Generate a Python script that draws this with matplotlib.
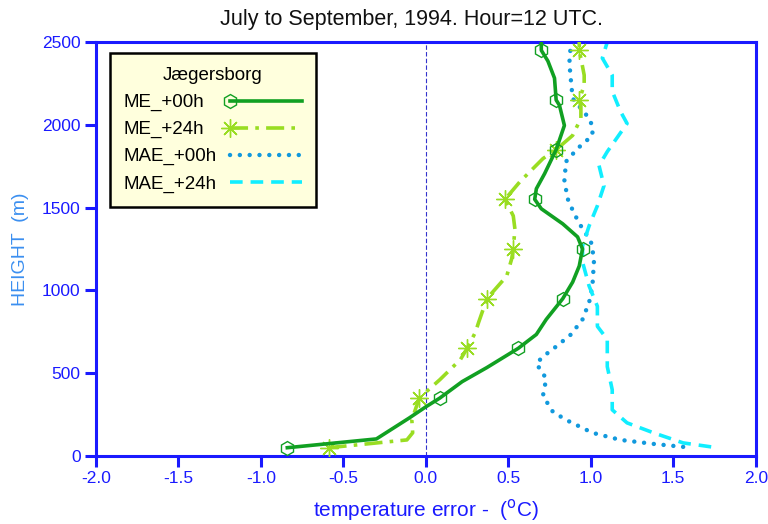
import matplotlib
matplotlib.use("Agg")
import matplotlib.pyplot as plt
from matplotlib.legend_handler import HandlerLine2D
import numpy as np

plt.rcParams['font.family'] = ['Liberation Sans', 'DejaVu Sans']

title = "July to September, 1994. Hour=12 UTC."
legend_title = "Jægersborg"
labels = ["ME_+00h", "ME_+24h", "MAE_+00h", "MAE_+24h"]
marker_heights = [50, 350, 650, 950, 1250, 1550, 1850, 2150, 2450]

me00_h = [50, 103, 230, 297, 350, 449, 534, 650, 734, 825, 950, 1050, 1147, 1250, 1323,
          1402, 1493, 1550, 1614, 1705, 1850, 1996, 2118, 2150, 2282, 2385, 2450, 2500]
me00_x = [-0.84, -0.30, -0.10, 0.0, 0.085, 0.22, 0.37, 0.56, 0.67, 0.73, 0.83, 0.89, 0.93, 0.95, 0.92,
          0.83, 0.70, 0.66, 0.67, 0.72, 0.79, 0.84, 0.81, 0.79, 0.78, 0.74, 0.70, 0.70]

me24_h = [50, 97, 140, 218, 350, 461, 583, 650, 746, 807, 950, 1086, 1189, 1250, 1371, 1450,
          1550, 1656, 1796, 1850, 1936, 2039, 2118, 2150, 2239, 2300, 2403, 2450, 2500]
me24_x = [-0.59, -0.115, -0.08, -0.085, -0.04, 0.085, 0.21, 0.25, 0.30, 0.32, 0.37, 0.49, 0.52, 0.53, 0.54, 0.53,
          0.48, 0.57, 0.71, 0.79, 0.89, 0.94, 0.94, 0.93, 0.96, 0.96, 0.94, 0.93, 0.93]

mae00_h = [55, 73, 97, 140, 218, 267, 315, 364, 467, 558, 600, 661, 734, 825, 928, 1026, 1189, 1299,
           1371, 1462, 1553, 1663, 1778, 1857, 1936, 1990, 2039, 2160, 2263, 2373, 2500]
mae00_x = [1.56, 1.38, 1.18, 1.01, 0.85, 0.77, 0.74, 0.71, 0.73, 0.67, 0.71, 0.79, 0.88, 0.95, 0.99, 1.01, 1.02, 1.00,
           0.95, 0.90, 0.86, 0.84, 0.85, 0.92, 1.01, 1.01, 0.99, 0.89, 0.88, 0.87, 0.88]

mae24_h = [55, 79, 140, 200, 279, 400, 540, 704, 783, 904, 1026, 1171, 1268, 1390, 1511, 1632,
           1754, 1838, 2008, 2081, 2203, 2300, 2403, 2500]
mae24_x = [1.73, 1.56, 1.38, 1.22, 1.13, 1.13, 1.10, 1.10, 1.04, 1.04, 0.99, 0.95, 0.95, 0.99, 1.04, 1.08,
           1.05, 1.10, 1.22, 1.18, 1.13, 1.13, 1.07, 1.10]

x_ticks = [-2.0, -1.5, -1.0, -0.5, 0.0, 0.5, 1.0, 1.5, 2.0]
y_ticks = [0, 500, 1000, 1500, 2000, 2500]

axis_blue = '#1a1aff'
fig = plt.figure(figsize=(7.68, 5.24), dpi=100)
ax = fig.add_axes([0.125, 0.1298, 0.859, 0.79])

def mk(hs):
    return [i for i, h in enumerate(hs) if h in marker_heights]

ax.axvline(0, color='#3333cc', lw=0.8, ls=(0, (4, 2)), zorder=1)

l_mae00, = ax.plot(mae00_x, mae00_h, color='#1199dd', lw=3.2, ls=(0, (0.01, 2.2)),
                   dash_capstyle='round', solid_capstyle='round', zorder=2)
l_mae24, = ax.plot(mae24_x, mae24_h, color='#11eeff', lw=2.6, ls=(0, (3.5, 2.2)), zorder=2)
l_me24, = ax.plot(me24_x, me24_h, color='#99dd22', lw=2.6, ls=(0, (5, 2, 1, 2)),
                  marker=(8, 2, 0), markersize=13, markeredgewidth=1.0, markevery=mk(me24_h), zorder=3)
l_me00, = ax.plot(me00_x, me00_h, color='#11a022', lw=2.6, ls='-',
                  marker='h', markersize=10, markerfacecolor='none', markeredgewidth=1.0,
                  markevery=mk(me00_h), zorder=4)

ax.set_xlim(-2.0, 2.0)
ax.set_ylim(0, 2500)
ax.set_xticks(x_ticks)
ax.set_xticklabels([f"{v:.1f}" for v in x_ticks])
ax.set_yticks(y_ticks)
ax.set_yticklabels([str(v) for v in y_ticks])
for s in ax.spines.values():
    s.set_color(axis_blue)
    s.set_linewidth(2.2)
ax.tick_params(axis='both', colors=axis_blue, labelcolor=axis_blue, labelsize=12.5,
               direction='out', length=8, width=2.2, pad=3)

ax.set_xlabel("temperature error -  ($^{\\mathrm{o}}$C)", color=axis_blue, fontsize=15, labelpad=8)
ax.set_ylabel("HEIGHT  (m)", color='#3b8ff0', fontsize=14, labelpad=9)
ax.set_title(title, fontsize=15.5, color='#111111', pad=12, x=0.478)


class LeftMarkerHandler(HandlerLine2D):
    def create_artists(self, legend, orig_handle, xdescent, ydescent, width, height, fontsize, trans):
        arts = super().create_artists(legend, orig_handle, xdescent, ydescent, width, height,
                                      fontsize, trans)
        line = arts[0]
        x = np.asarray(line.get_xdata(), dtype=float)
        x0, x1 = x[0], x[-1]
        line.set_xdata([x0, x0 + 0.01, x1])
        return arts


leg = ax.legend([l_me00, l_me24, l_mae00, l_mae24], labels, title=legend_title,
                loc='upper left', bbox_to_anchor=(0.021, 0.973), fontsize=13.5, title_fontsize=13.5,
                handlelength=3.8, frameon=True, fancybox=False, borderpad=0.75,
                labelspacing=0.52, handletextpad=0.7, markerfirst=False, borderaxespad=0,
                numpoints=1,
                handler_map={l: LeftMarkerHandler(numpoints=1) for l in [l_me00, l_me24]})
leg.get_frame().set_facecolor('#ffffdd')
leg.get_frame().set_edgecolor('black')
leg.get_frame().set_linewidth(1.8)
leg.get_frame().set_alpha(1)

# left-align label texts while keeping handles right-aligned
fig.canvas.draw()
texts = leg.get_texts()
widths = [t.get_window_extent().width for t in texts]
maxw = max(widths)
cols = leg._legend_handle_box.get_children()
items = [it for c in cols for it in c.get_children()]
for it, w in zip(items, widths):
    it.sep = it.sep + (maxw - w) * 72.0 / fig.dpi

fig.savefig("out.png", dpi=100)
